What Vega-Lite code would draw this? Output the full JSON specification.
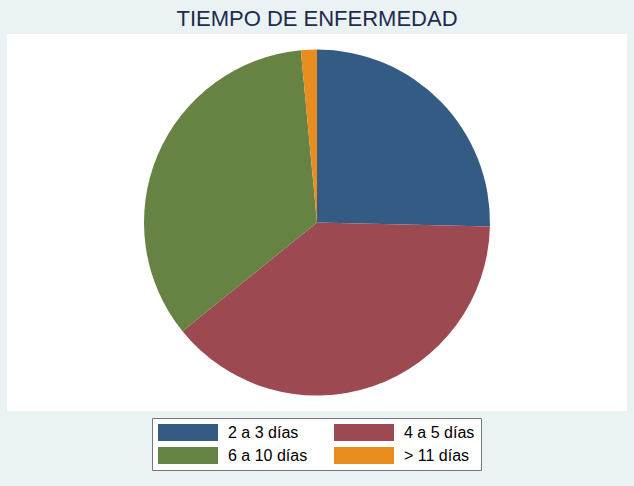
{
  "$schema": "https://vega.github.io/schema/vega-lite/v6.json",
  "autosize": {"type": "none"},
  "width": 620,
  "height": 377,
  "padding": {"left": 7, "top": 34, "right": 7, "bottom": 75},
  "background": "#eaf2f3",
  "title": {
    "text": "TIEMPO DE ENFERMEDAD",
    "font": "Liberation Sans",
    "fontSize": 22,
    "fontWeight": "normal",
    "color": "#1c2b4f",
    "anchor": "middle",
    "offset": 3
  },
  "data": {
    "values": [
      {"categoria": "2 a 3 días", "n": 17, "orden": 1},
      {"categoria": "4 a 5 días", "n": 26, "orden": 2},
      {"categoria": "6 a 10 días", "n": 23, "orden": 3},
      {"categoria": "> 11 días", "n": 1, "orden": 4}
    ]
  },
  "layer": [
    {
      "mark": {"type": "rect", "color": "#ffffff", "stroke": null},
      "encoding": {}
    },
    {
      "mark": {"type": "arc", "radius": 173, "stroke": null},
      "encoding": {
        "theta": {"field": "n", "type": "quantitative", "stack": true},
        "order": {"field": "orden", "type": "quantitative"},
        "color": {
          "field": "categoria",
          "type": "nominal",
          "scale": {
            "domain": ["2 a 3 días", "4 a 5 días", "6 a 10 días", "> 11 días"],
            "range": ["#345b83", "#9c4951", "#668343", "#e88d1e"]
          },
          "legend": {
            "title": null,
            "orient": "none",
            "direction": "horizontal",
            "legendX": 145,
            "legendY": 384,
            "columns": 2,
            "symbolType": "M-1,-1H6.06V1H-1Z",
            "symbolSize": 289,
            "symbolStrokeWidth": 0,
            "labelOffset": 53,
            "labelFont": "Liberation Sans",
            "labelFontSize": 16,
            "labelColor": "#000000",
            "rowPadding": 6,
            "columnPadding": 26,
            "padding": 6,
            "strokeColor": "#777777",
            "fillColor": "#ffffff"
          }
        }
      }
    }
  ],
  "config": {"view": {"stroke": null}}
}
